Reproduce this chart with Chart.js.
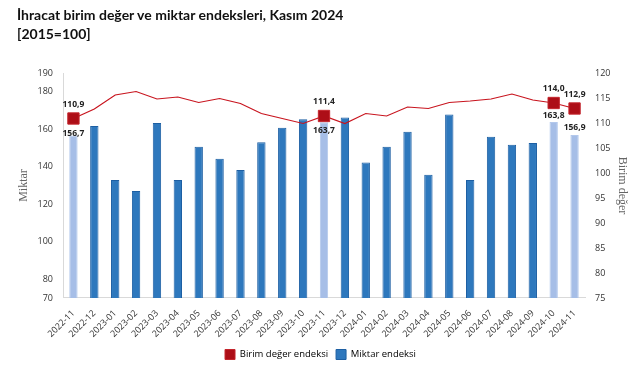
<!DOCTYPE html>
<html>
<head>
<meta charset="utf-8">
<script src="https://cdn.jsdelivr.net/npm/chart.js@4"></script>
<style>
  html, body { margin: 0; padding: 0; background: #fff; }
  #wrap { position: relative; width: 641px; height: 380px; }
  #title { position: absolute; left: 17px; top: 5px; font-family: Lato, "Open Sans", sans-serif; font-weight: bold; font-size: 14px; line-height: 19px; color: #111; }
  canvas { position: absolute; left: 0; top: 0; }
</style>
</head>
<body>
<div id="wrap">
  <canvas id="c" width="641" height="380"></canvas>
  <div id="title">İhracat birim değer ve miktar endeksleri, Kasım 2024<br>[2015=100]</div>
</div>
<script>
const categories = ["2022-11","2022-12","2023-01","2023-02","2023-03","2023-04","2023-05","2023-06","2023-07","2023-08","2023-09","2023-10","2023-11","2023-12","2024-01","2024-02","2024-03","2024-04","2024-05","2024-06","2024-07","2024-08","2024-09","2024-10","2024-11"];
const miktar = [156.7,161.7,132.9,127.0,163.3,132.9,150.6,144.2,138.2,153.1,160.8,165.3,163.7,166.2,142.2,150.6,158.7,135.7,167.8,132.9,156.0,151.7,152.7,163.8,156.9];
const birimDeger = [110.9,112.8,115.6,116.3,114.8,115.2,114.1,114.9,113.9,111.9,110.9,109.9,111.4,109.9,111.9,111.4,113.2,112.9,114.1,114.4,114.8,115.8,114.6,114.0,112.9];
const highlighted = [0,12,23,24];
const leftTicks = [70,80,100,120,140,160,180,190];

const isHi = i => highlighted.includes(i);
const fmt = v => v.toFixed(1).replace('.', ',');

const labelPlugin = {
  id: 'hiLabels',
  afterDatasetsDraw(chart) {
    const ctx = chart.ctx;
    const lineMeta = chart.getDatasetMeta(0);
    const barMeta = chart.getDatasetMeta(1);
    ctx.save();
    ctx.font = 'bold 8.5px "Open Sans", sans-serif';
    ctx.fillStyle = '#222';
    ctx.textAlign = 'center';
    ctx.textBaseline = 'middle';
    highlighted.forEach(i => {
      const p = lineMeta.data[i];
      const b = barMeta.data[i];
      ctx.fillText(fmt(birimDeger[i]), p.x, p.y - 14);
      let by = b.y - 7;
      if (Math.abs(by - p.y) < 10) by = p.y + 15;
      ctx.fillText(fmt(miktar[i]), b.x, by);
    });
    ctx.restore();
  }
};

new Chart(document.getElementById('c'), {
  data: {
    labels: categories,
    datasets: [
      {
        type: 'line',
        label: 'Birim değer endeksi',
        data: birimDeger,
        yAxisID: 'y1',
        borderColor: '#c8141e',
        borderWidth: 1.2,
        tension: 0,
        pointStyle: 'rect',
        pointRadius: ctx => isHi(ctx.dataIndex) ? 8 : 0,
        pointHoverRadius: ctx => isHi(ctx.dataIndex) ? 8 : 0,
        pointBackgroundColor: '#ad0e17',
        pointBorderColor: '#c4252c',
        pointBorderWidth: 1,
        order: 0
      },
      {
        type: 'bar',
        label: 'Miktar endeksi',
        data: miktar,
        yAxisID: 'y',
        backgroundColor: ctx => isHi(ctx.dataIndex) ? '#a6bee7' : '#2e78bd',
        borderColor: ctx => isHi(ctx.dataIndex) ? '#b3c8ec' : '#1d5fa3',
        borderWidth: 1,
        barPercentage: 0.4,
        categoryPercentage: 1.0,
        order: 1
      }
    ]
  },
  options: {
    responsive: false,
    animation: false,
    devicePixelRatio: 1,
    layout: { padding: { top: 73, left: 0, right: 0, bottom: 10.5 } },
    plugins: {
      tooltip: { enabled: false },
      legend: {
        position: 'bottom',
        labels: {
          boxWidth: 10,
          boxHeight: 10,
          padding: 8,
          color: '#222',
          font: { family: '"Open Sans", sans-serif', size: 9.5 },
          generateLabels: () => [
            { text: 'Birim değer endeksi', fillStyle: '#ad0e17', strokeStyle: '#c4252c', lineWidth: 1, datasetIndex: 0 },
            { text: 'Miktar endeksi', fillStyle: '#2e78bd', strokeStyle: '#1d5fa3', lineWidth: 1, datasetIndex: 1 }
          ]
        }
      }
    },
    scales: {
      x: {
        grid: { display: false },
        border: { display: true, color: '#d9d9d9' },
        ticks: { autoSkip: false, maxRotation: 45, minRotation: 45, color: '#333', font: { family: '"Open Sans", sans-serif', size: 9 }, padding: 2 }
      },
      y: {
        position: 'left',
        min: 70, max: 190,
        afterBuildTicks: s => { s.ticks = leftTicks.map(v => ({ value: v })); },
        afterFit: s => { s.width = 63; },
        grid: { display: false, drawTicks: false },
        border: { display: true, color: '#d9d9d9' },
        ticks: { color: '#333', font: { family: '"Open Sans", sans-serif', size: 9 }, padding: 10 },
        title: { display: true, text: 'Miktar', color: '#666', font: { family: '"Liberation Serif", serif', size: 12 }, padding: { top: 17, bottom: 0 } }
      },
      y1: {
        position: 'right',
        min: 75, max: 120,
        afterFit: s => { s.width = 56; },
        grid: { display: false, drawTicks: false },
        border: { display: false },
        ticks: { stepSize: 5, color: '#333', font: { family: '"Open Sans", sans-serif', size: 9 }, padding: 10 },
        title: { display: true, text: 'Birim değer', color: '#666', font: { family: '"Liberation Serif", serif', size: 12 }, padding: { top: 12, bottom: 0 } }
      }
    }
  },
  plugins: [labelPlugin]
});
</script>
</body>
</html>
